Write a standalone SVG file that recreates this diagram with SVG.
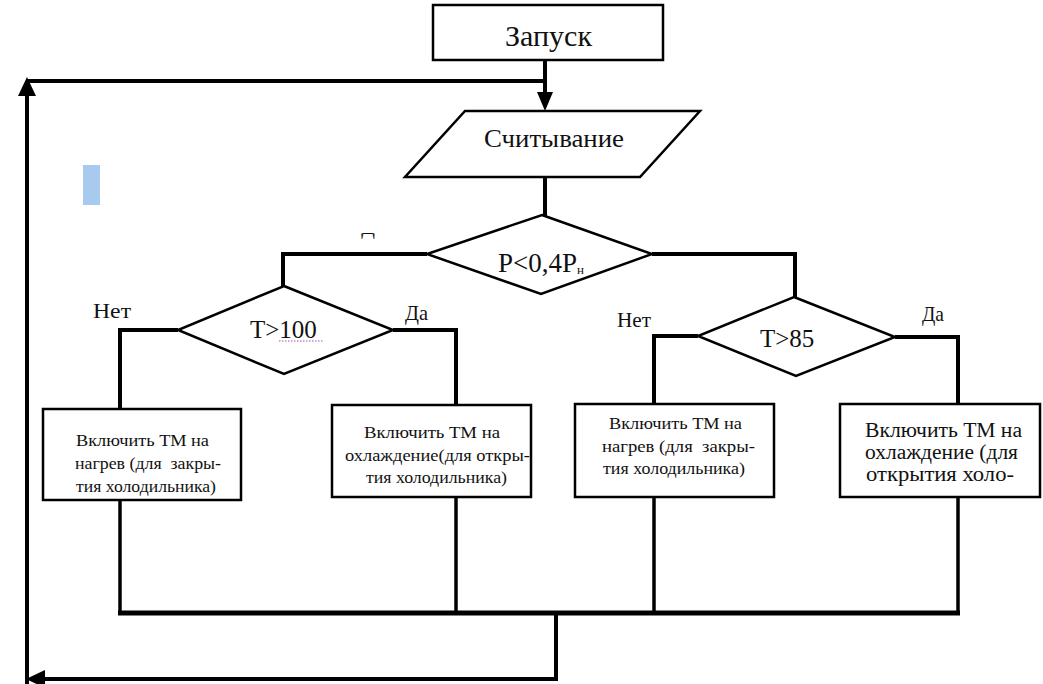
<svg xmlns="http://www.w3.org/2000/svg" width="1043" height="684" viewBox="0 0 1043 684">
  <style>
    .shape { fill: #ffffff; stroke: #000; stroke-width: 2.5; }
    .conn { fill: none; stroke: #000; stroke-width: 4; stroke-linejoin: miter; }
    .thin { fill: none; stroke: #000; stroke-width: 3.5; }
    text { font-family: "Liberation Serif", "DejaVu Serif", serif; fill: #111; }
    .lbl { font-size: 21px; }
    .box { font-size: 17px; }
    .box4 { font-size: 20px; }
  </style>
  <defs>
    <clipPath id="clipD"><rect x="355" y="233" width="30" height="7"/></clipPath>
  </defs>

  <rect x="0" y="0" width="1043" height="684" fill="#ffffff"/>

  <g id="connectors">
    <path class="conn" d="M545,60 L545,94"/>
    <polygon points="545,111 537,92 553,92" fill="#000"/>
    <path class="conn" d="M545,81 L27,81"/>
    <path class="conn" d="M27,684 L27,94"/>
    <polygon points="27,77 18,96 36,96" fill="#000"/>
    <path class="conn" d="M545,176 L545,216"/>
    <path class="conn" d="M427,254 L283,254 L283,288"/>
    <path class="conn" d="M652,254 L795,254 L795,298"/>
    <path class="conn" d="M178,330 L120,330 L120,409"/>
    <path class="conn" d="M393,330 L456,330 L456,405"/>
    <path class="conn" d="M698,336 L654,336 L654,404"/>
    <path class="conn" d="M895,337 L958,337 L958,404"/>
    <path class="thin" d="M120,500 L120,613"/>
    <path class="thin" d="M456,497 L456,613"/>
    <path class="thin" d="M654,497 L654,613"/>
    <path class="thin" d="M958,497 L958,613"/>
    <path class="conn" d="M118,613 L960,613" style="stroke-width:5"/>
    <path class="conn" d="M556,613 L556,679 L42,679"/>
    <polygon points="26,679 45,670 45,688" fill="#000"/>
  </g>

  <g id="start">
    <rect class="shape" x="433" y="5" width="230" height="55"/>
    <text x="505" y="46" style="font-size:29px" textLength="87" lengthAdjust="spacingAndGlyphs">Запуск</text>
  </g>

  <g id="read">
    <polygon class="shape" points="465,111 700,111 640,177 405,177"/>
    <text x="484" y="147" style="font-size:26px" textLength="140" lengthAdjust="spacingAndGlyphs">Считывание</text>
  </g>

  <g id="decision-p">
    <polygon class="shape" points="542,215 652,254 541,294 427,254"/>
    <text x="498" y="272" style="font-size:27px">P&lt;0,4P<tspan style="font-size:13px" dy="2">н</tspan></text>
    <text x="368" y="234" style="font-size:20px" text-anchor="middle" clip-path="url(#clipD)">Д</text>
  </g>

  <g id="decision-t100">
    <polygon class="shape" points="284,286 393,330 284,374 178,330"/>
    <text x="250" y="338" style="font-size:25px">T&gt;100</text>
    <line x1="279" y1="341" x2="323" y2="341" stroke="#a050c0" stroke-width="1" stroke-dasharray="1.5,1.5"/>
    <text class="lbl" x="93" y="318" textLength="38" lengthAdjust="spacingAndGlyphs">Нет</text>
    <text class="lbl" x="405" y="320" textLength="23" lengthAdjust="spacingAndGlyphs">Да</text>
  </g>

  <g id="decision-t85">
    <polygon class="shape" points="794,297 895,337 796,376 698,336"/>
    <text x="760" y="347" style="font-size:25px">T&gt;85</text>
    <text class="lbl" x="617" y="327" textLength="34" lengthAdjust="spacingAndGlyphs">Нет</text>
    <text class="lbl" x="922" y="321" textLength="22" lengthAdjust="spacingAndGlyphs">Да</text>
  </g>

  <g id="box-heat-1">
    <rect class="shape" x="43" y="409" width="198" height="91"/>
    <text class="box" x="76" y="446" textLength="133" lengthAdjust="spacingAndGlyphs">Включить ТМ на</text>
    <text class="box" x="75" y="469" textLength="146" lengthAdjust="spacingAndGlyphs" xml:space="preserve">нагрев (для  закры-</text>
    <text class="box" x="76" y="492" textLength="140" lengthAdjust="spacingAndGlyphs">тия холодильника)</text>
  </g>

  <g id="box-cool-1">
    <rect class="shape" x="332" y="405" width="199" height="92"/>
    <text class="box" x="364" y="438" textLength="136" lengthAdjust="spacingAndGlyphs">Включить ТМ на</text>
    <text class="box" x="345" y="461" textLength="185" lengthAdjust="spacingAndGlyphs">охлаждение(для откры-</text>
    <text class="box" x="366" y="483" textLength="141" lengthAdjust="spacingAndGlyphs">тия холодильника)</text>
  </g>

  <g id="box-heat-2">
    <rect class="shape" x="575" y="404" width="199" height="93"/>
    <text class="box" x="609" y="429" textLength="133" lengthAdjust="spacingAndGlyphs">Включить ТМ на</text>
    <text class="box" x="602" y="452" textLength="153" lengthAdjust="spacingAndGlyphs" xml:space="preserve">нагрев (для  закры-</text>
    <text class="box" x="603" y="474" textLength="142" lengthAdjust="spacingAndGlyphs">тия холодильника)</text>
  </g>

  <g id="box-cool-2">
    <rect class="shape" x="840" y="404" width="200" height="93"/>
    <text class="box4" x="865" y="437" textLength="157" lengthAdjust="spacingAndGlyphs">Включить ТМ на</text>
    <text class="box4" x="865" y="459" textLength="153" lengthAdjust="spacingAndGlyphs">охлаждение (для</text>
    <text class="box4" x="866" y="481" textLength="148" lengthAdjust="spacingAndGlyphs">открытия холо-</text>
  </g>

  <rect id="marker-blue" x="83" y="165" width="17" height="40" fill="#a8caee"/>
</svg>
